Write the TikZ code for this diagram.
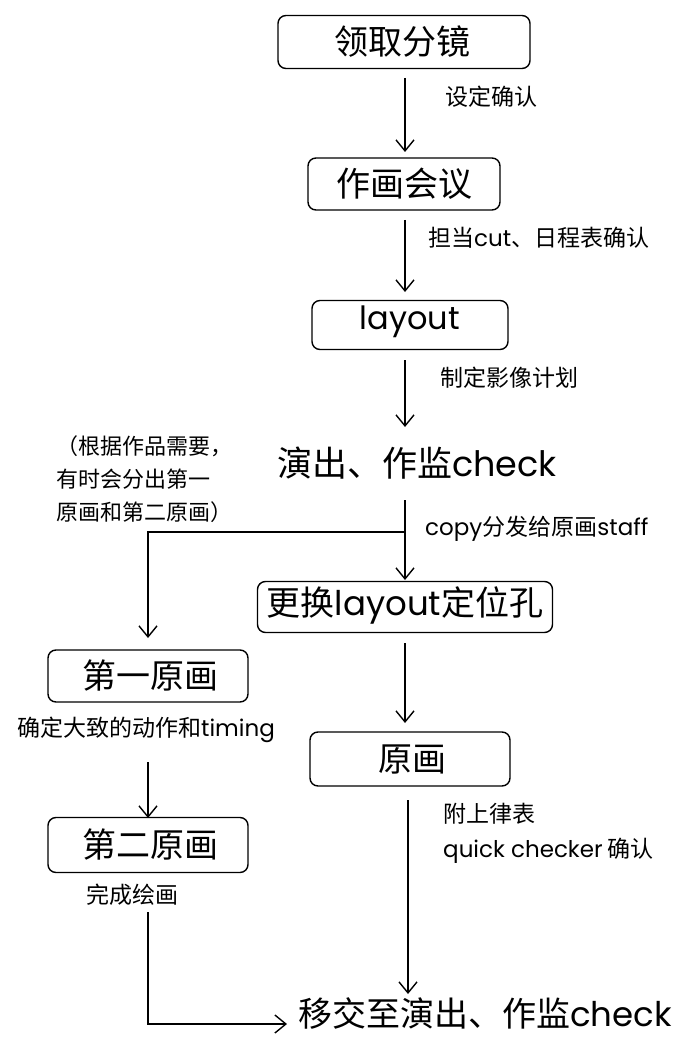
\documentclass[tikz,border=0pt]{standalone}
\usepackage{fontspec}
\setmainfont{Noto Sans CJK SC}
\newfontfamily\lat{Poppins}
\usetikzlibrary{arrows.meta}
\tikzset{
  stepbox/.style={draw, line width=1.4pt, rounded corners=8pt, inner sep=0pt, anchor=center},
  bigtxt/.style={font=\fontsize{34}{38}\selectfont, inner sep=0pt},
  lbl/.style={font=\fontsize{23}{27}\selectfont, inner sep=0pt, anchor=west, align=left},
  flow/.style={line width=1.4pt, -{Straight Barb[length=11pt,width=18pt,line width=1.4pt]}},
  plain/.style={line width=1.4pt}
}
\begin{document}
\begin{tikzpicture}[x=1pt,y=-1pt]
\useasboundingbox (0,0) rectangle (691,1040);
% boxes
\node[stepbox, minimum width=252pt, minimum height=53pt] (b1) at (404,42) {};
\node[bigtxt] (t1) at (402,42) {领取分镜};
\node[stepbox, minimum width=192pt, minimum height=52pt] (b2) at (404,184) {};
\node[bigtxt] (t2) at (404,184) {作画会议};
\node[stepbox, minimum width=196pt, minimum height=49pt] (b3) at (410,325) {};
\node[bigtxt, font=\fontsize{32}{36}\selectfont] (t3) at (410,322) {\lat layout};
\node[bigtxt, font=\fontsize{35}{38}\selectfont] (c1) at (417,463) {演出、作监\lat check};
\node[stepbox, minimum width=295pt, minimum height=51pt] (b4) at (405,607) {};
\node[bigtxt] (t4) at (405,605) {更换{\lat layout}定位孔};
\node[stepbox, minimum width=200pt, minimum height=52pt] (b5) at (148,676) {};
\node[bigtxt] (t5) at (150,676) {第一原画};
\node[stepbox, minimum width=200pt, minimum height=55pt] (b6) at (148,845) {};
\node[bigtxt] (t6) at (150,845) {第二原画};
\node[stepbox, minimum width=200pt, minimum height=54pt] (b7) at (410,759) {};
\node[bigtxt] (t7) at (412,759) {原画};
\node[bigtxt, anchor=west, font=\fontsize{34}{38}\selectfont] (fin) at (298,1013) {移交至演出、作监\lat check};
% labels
\node[lbl] (l1) at (445,97) {设定确认};
\node[lbl] (l2) at (428,238) {担当{\lat cut}、日程表确认};
\node[lbl] (l3) at (440,378) {制定影像计划};
\node[lbl] (l4) at (425,529) {{\lat copy}分发给原画{\lat staff}};
\node[lbl, font=\fontsize{22}{33}\selectfont] (n1) at (56,479) {（根据作品需要，\\有时会分出第一\\原画和第二原画）};
\node[lbl, anchor=center] (l5) at (146,730) {确定大致的动作和{\lat timing}};
\node[lbl, anchor=center] (l6) at (132,895) {完成绘画};
\node[lbl, font=\fontsize{23}{35}\selectfont] (l7) at (443,833) {附上律表\\{\lat quick checker} 确认};
% coordinates
\coordinate (s1) at (405,78);
\coordinate (e1) at (405,152);
\coordinate (s2) at (405,220);
\coordinate (e2) at (405,292);
\coordinate (s3) at (405,360);
\coordinate (e3) at (405,427);
\coordinate (s4) at (405,500);
\coordinate (e4) at (405,580);
\coordinate (j) at (405,532);
\coordinate (k) at (148,532);
\coordinate (e5) at (148,638);
\coordinate (s6) at (405,643);
\coordinate (e6) at (405,723);
\coordinate (s7) at (148,762);
\coordinate (e7) at (148,818);
\coordinate (s8) at (408,800);
\coordinate (e8) at (408,994);
\coordinate (s9) at (148,912);
\coordinate (m) at (148,1024);
\coordinate (e9) at (287,1024);
% connectors
\draw[flow] (s1) -- (e1);
\draw[flow] (s2) -- (e2);
\draw[flow] (s3) -- (e3);
\draw[flow] (s4) -- (e4);
\draw[flow] (j) -- (k) -- (e5);
\draw[flow] (s6) -- (e6);
\draw[flow] (s7) -- (e7);
\draw[flow] (s8) -- (e8);
\draw[flow] (s9) -- (m) -- (e9);
\end{tikzpicture}
\end{document}
